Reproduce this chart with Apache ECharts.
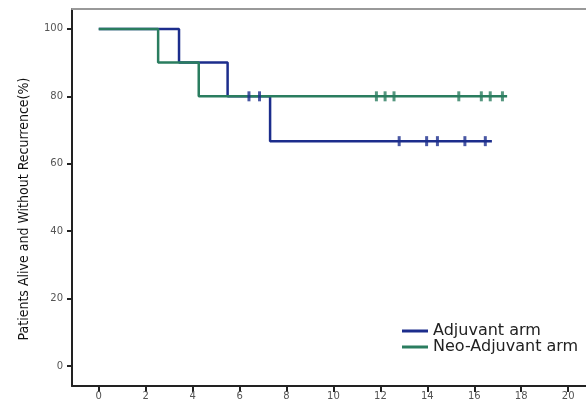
<!DOCTYPE html>
<html>
<head>
<meta charset="utf-8">
<script src="https://cdn.jsdelivr.net/npm/echarts@6/dist/echarts.min.js"></script>
<style>
  html, body { margin: 0; padding: 0; background: #fff; }
  #main { width: 586px; height: 404px; }
</style>
</head>
<body>
<div id="main"></div>
<script>
// Kaplan-Meier steps: [time, percent] at each event (step drawn at the event time)
const adjuvantSteps = [[0, 100], [3.42, 90], [5.49, 80], [7.3, 66.7], [16.75, 66.7]]
const neoSteps = [[0, 100], [2.53, 90], [4.26, 80], [17.4, 80]]
// censored observations
const adjuvantCensor = [[6.4, 80], [6.85, 80], [12.8, 66.7], [13.97, 66.7], [14.43, 66.7], [15.6, 66.7], [16.47, 66.7]]
const neoCensor = [[11.83, 80], [12.2, 80], [12.58, 80], [15.34, 80], [16.3, 80], [16.68, 80], [17.2, 80]]

const xTicks = [0, 2, 4, 6, 8, 10, 12, 14, 16, 18, 20]
const yTicks = [0, 20, 40, 60, 80, 100]

const blue = '#1c2d8c'
const green = '#2a7d5f'

const chart = echarts.init(document.getElementById('main'))

const option = {
  animation: false,
  grid: { left: 72, top: 9, right: -6, bottom: 18 },
  legend: {
    orient: 'vertical',
    left: 397,
    top: 318,
    itemWidth: 26,
    itemHeight: 3,
    itemGap: 0,
    icon: 'rect',
    textStyle: { fontFamily: 'DejaVu Sans', fontSize: 16, color: '#222', lineHeight: 14 },
    data: ['Adjuvant arm', 'Neo-Adjuvant arm'],
  },
  xAxis: [
    {
      type: 'value',
      min: -1.14,
      max: 20.76,
      splitLine: { show: false },
      axisLine: { show: true, onZero: false, lineStyle: { color: '#222', width: 2 } },
      axisTick: { show: true, length: 6, customValues: xTicks, lineStyle: { color: '#222', width: 2 } },
      axisLabel: { customValues: xTicks, margin: 5, fontFamily: 'DejaVu Sans', fontSize: 10, color: '#555' },
    },
    {
      type: 'value',
      position: 'top',
      min: -1.14,
      max: 20.76,
      splitLine: { show: false },
      axisLine: { show: true, onZero: false, lineStyle: { color: '#999', width: 2 } },
      axisTick: { show: false },
      axisLabel: { show: false },
    },
  ],
  yAxis: {
    type: 'value',
    min: -5.93,
    max: 105.9,
    splitLine: { show: false },
    axisLine: { show: true, onZero: false, lineStyle: { color: '#222', width: 2 } },
    axisTick: { show: true, length: 5, customValues: yTicks, lineStyle: { color: '#222', width: 2 } },
    axisLabel: { customValues: yTicks, margin: 9, fontFamily: 'DejaVu Sans', fontSize: 10, color: '#555' },
  },
  graphic: [
    {
      type: 'text',
      x: 24,
      y: 209,
      rotation: Math.PI / 2,
      style: {
        text: 'Patients Alive and Without Recurrence(%)',
        font: '14px "Liberation Sans Narrow", "DejaVu Sans Condensed", sans-serif',
        fill: '#111',
        align: 'center',
        verticalAlign: 'middle',
      },
    },
  ],
  series: [
    {
      name: 'Adjuvant arm',
      type: 'line',
      step: 'end',
      data: adjuvantSteps,
      showSymbol: false,
      color: blue,
      lineStyle: { color: blue, width: 2.5 },
      z: 2,
    },
    {
      name: 'Neo-Adjuvant arm',
      type: 'line',
      step: 'end',
      data: neoSteps,
      showSymbol: false,
      color: green,
      lineStyle: { color: green, width: 2.5 },
      z: 3,
    },
    {
      name: 'Adjuvant censor',
      type: 'scatter',
      data: adjuvantCensor,
      symbol: 'rect',
      symbolSize: [3, 10],
      itemStyle: { color: blue },
      z: 5,
    },
    {
      name: 'Neo censor',
      type: 'scatter',
      data: neoCensor,
      symbol: 'rect',
      symbolSize: [3, 10],
      itemStyle: { color: green },
      z: 4,
    },
  ],
}

chart.setOption(option)
</script>
</body>
</html>
